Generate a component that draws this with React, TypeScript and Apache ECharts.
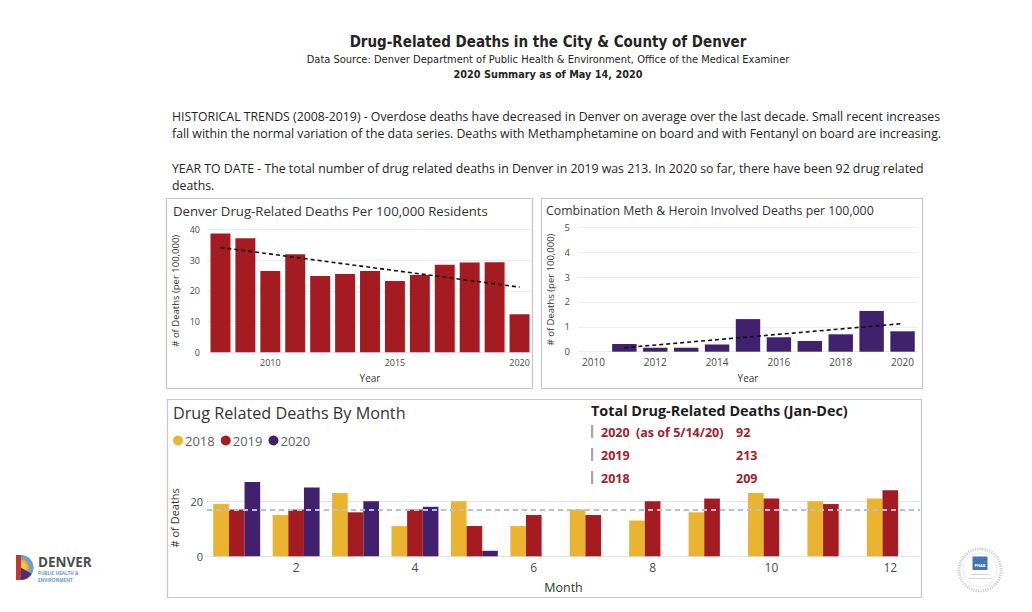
import React, { useEffect, useRef } from "react";
import * as echarts from "echarts";

// ---- data ----
const rateYears = ["2008", "2009", "2010", "2011", "2012", "2013", "2014", "2015", "2016", "2017", "2018", "2019", "2020"];
const rateValues = [38.6, 37.1, 26.4, 31.9, 24.8, 25.5, 26.4, 23.2, 25.1, 28.5, 29.2, 29.3, 12.4];
const rateTrend = [34.1, null, null, null, null, null, null, null, null, null, null, null, 21.2];

const comboYears = ["2010", "2011", "2012", "2013", "2014", "2015", "2016", "2017", "2018", "2019", "2020"];
const comboValues = [null, 0.31, 0.16, 0.16, 0.29, 1.31, 0.58, 0.43, 0.7, 1.64, 0.82];
const comboTrend = [null, 0.16, null, null, null, null, null, null, null, null, 1.13];

const months = ["1", "2", "3", "4", "5", "6", "7", "8", "9", "10", "11", "12"];
const deaths2018 = [19, 15, 23, 11, 20, 11, 17, 13, 16, 23, 20, 21];
const deaths2019 = [17, 17, 16, 17, 11, 15, 15, 20, 21, 21, 19, 24];
const deaths2020 = [27, 25, 20, 18, 2, null, null, null, null, null, null, null];
const monthlyAverage = 17.1;

const totalsLabels = ["2020  (as of 5/14/20)", "2019", "2018"];
const totalsValues = ["92", "213", "209"];

const paragraphLines = [
  "HISTORICAL TRENDS (2008-2019) - Overdose deaths have decreased in Denver on average over the last decade. Small recent increases",
  "fall within the normal variation of the data series. Deaths with Methamphetamine on board and with Fentanyl on board are increasing.",
  "YEAR TO DATE - The total number of drug related deaths in Denver in 2019 was 213. In 2020 so far, there have been 92 drug related",
  "deaths.",
];

const RED = "#A51B22";
const PURPLE = "#41206E";
const YELLOW = "#EBB430";
const FONT = "'Open Sans', 'Noto Sans', sans-serif";
const NARROW = "'Liberation Sans Narrow', 'DejaVu Sans Condensed', sans-serif";
const AXIS_COLOR = "#4a4a4a";
const GRID_COLOR = "#ececec";

export default function App() {
  const ref = useRef<HTMLDivElement>(null);

  useEffect(() => {
    if (!ref.current) return;
    const chart = echarts.init(ref.current, undefined, { renderer: "svg" });

    const txt = (x: number, y: number, text: string, o: any = {}) => ({
      type: "text",
      x,
      y,
      silent: true,
      style: {
        text,
        fill: o.fill || "#252423",
        font: o.font || `12px ${FONT}`,
        align: o.align || "left",
        verticalAlign: "middle",
      },
    });

    const frame = (x: number, y: number, w: number, h: number) => ({
      type: "rect",
      shape: { x, y, width: w, height: h },
      style: { fill: "none", stroke: "#c6c6c6", lineWidth: 1.2 },
      silent: true,
    });

    const graphics: any[] = [
      txt(548, 42, "Drug-Related Deaths in the City & County of Denver", { font: `bold 15px ${NARROW}`, align: "center" }),
      txt(548, 59, "Data Source: Denver Department of Public Health & Environment, Office of the Medical Examiner", { font: `11px ${NARROW}`, align: "center" }),
      txt(548, 74, "2020 Summary as of May 14, 2020", { font: `bold 10.8px ${NARROW}`, align: "center" }),
      txt(172, 116, paragraphLines[0], { font: `12.3px ${FONT}` }),
      txt(172, 133, paragraphLines[1], { font: `12.3px ${FONT}` }),
      txt(172, 168, paragraphLines[2], { font: `12.3px ${FONT}` }),
      txt(172, 185, paragraphLines[3], { font: `12.3px ${FONT}` }),
      frame(166.5, 198.5, 366, 190),
      frame(541.5, 198.5, 381, 190),
      frame(167.5, 399.5, 754, 198),
      txt(173, 211, "Denver Drug-Related Deaths Per 100,000 Residents", { font: `13.2px ${FONT}`, fill: "#333" }),
      txt(546, 210, "Combination Meth & Heroin Involved Deaths per 100,000", { font: `12.3px ${FONT}`, fill: "#333" }),
      txt(173, 413, "Drug Related Deaths By Month", { font: `16.2px ${FONT}`, fill: "#333" }),
      txt(591, 410, "Total Drug-Related Deaths (Jan-Dec)", { font: `bold 14.4px ${FONT}`, fill: "#1c1c1c" }),
    ];
    const rowY = [432, 455, 478];
    rowY.forEach((y, i) => {
      graphics.push({
        type: "rect",
        shape: { x: 591, y: y - 7, width: 2.2, height: 13 },
        style: { fill: "#a6a6a6" },
        silent: true,
      });
      graphics.push(txt(601, y, totalsLabels[i], { font: `bold 12.5px ${FONT}`, fill: "#A3212B" }));
      graphics.push(txt(736, y, totalsValues[i], { font: `bold 12.5px ${FONT}`, fill: "#A3212B" }));
    });

    // Denver logo
    graphics.push(
      { type: "rect", shape: { x: 16, y: 555, width: 5, height: 25 }, style: { fill: "#c0392b" }, silent: true },
      { type: "sector", shape: { cx: 21, cy: 567.5, r0: 0, r: 12.5, startAngle: -Math.PI / 2, endAngle: Math.PI / 2 }, style: { fill: "#f0a830" }, silent: true },
      { type: "sector", shape: { cx: 21, cy: 567.5, r0: 0, r: 12.5, startAngle: Math.PI / 6, endAngle: Math.PI / 2 }, style: { fill: "#4a2f7a" }, silent: true },
      { type: "sector", shape: { cx: 21, cy: 567.5, r0: 8, r: 12.5, startAngle: -Math.PI / 2, endAngle: Math.PI / 6 }, style: { fill: "#6aa0d8" }, silent: true },
      { type: "sector", shape: { cx: 21, cy: 567.5, r0: 0, r: 6, startAngle: -Math.PI / 2, endAngle: Math.PI / 6 }, style: { fill: "#f4c542" }, silent: true },
      txt(38, 562, "DENVER", { font: `bold 13.5px ${FONT}`, fill: "#4d4d4f" }),
      txt(38, 573, "PUBLIC HEALTH &", { font: `bold 4.6px ${FONT}`, fill: "#6f96cc" }),
      txt(38, 579.5, "ENVIRONMENT", { font: `bold 4.6px ${FONT}`, fill: "#6f96cc" })
    );
    // PHAB seal
    graphics.push(
      { type: "circle", shape: { cx: 980, cy: 570, r: 21 }, style: { fill: "#fff", stroke: "#cfcfcf", lineWidth: 3, lineDash: [1.2, 1.2] }, silent: true },
      { type: "circle", shape: { cx: 980, cy: 570, r: 17 }, style: { fill: "none", stroke: "#e0e0e0", lineWidth: 0.8 }, silent: true },
      { type: "rect", shape: { x: 972.5, y: 556.5, width: 15, height: 13.5 }, style: { fill: "#4375b3" }, silent: true },
      txt(980, 565.5, "PHAB", { font: `bold 4px ${FONT}`, fill: "#fff", align: "center" }),
      txt(980, 573.5, "Advancing public", { font: `2.4px ${FONT}`, fill: "#888", align: "center" }),
      txt(980, 578, "health performance", { font: `2.4px ${FONT}`, fill: "#888", align: "center" })
    );

    const axisLabel = (size: number, margin: number, extra: any = {}) => ({
      color: AXIS_COLOR,
      fontSize: size,
      fontFamily: FONT,
      margin,
      ...extra,
    });

    const option: any = {
      animation: false,
      backgroundColor: "#ffffff",
      textStyle: { fontFamily: FONT },
      grid: [
        { left: 208, right: 500, top: 229.3, bottom: 259.7 },
        { left: 578, right: 114, top: 227.3, bottom: 260.3 },
        { left: 207, right: 112, top: 479.3, bottom: 55.7 },
      ],
      legend: {
        data: ["2018", "2019", "2020"],
        icon: "circle",
        left: 168,
        top: 429,
        itemWidth: 10,
        itemHeight: 10,
        itemGap: 6,
        textStyle: { color: "#605E5C", fontSize: 13, fontFamily: FONT, padding: [0, 0, 0, -3] },
      },
      xAxis: [
        {
          type: "category",
          gridIndex: 0,
          data: rateYears,
          axisLine: { show: false },
          axisTick: { show: false },
          axisLabel: axisLabel(9, 6, { interval: (_i: number, v: string) => v === "2010" || v === "2015" || v === "2020" }),
          name: "Year",
          nameLocation: "middle",
          nameGap: 21,
          nameTextStyle: { color: "#333", fontSize: 10, fontFamily: FONT },
        },
        {
          type: "category",
          gridIndex: 1,
          data: comboYears,
          axisLine: { show: false },
          axisTick: { show: false },
          axisLabel: axisLabel(10, 5, { interval: (_i: number, v: string) => Number(v) % 2 === 0 }),
          name: "Year",
          nameLocation: "middle",
          nameGap: 21,
          nameTextStyle: { color: "#333", fontSize: 10, fontFamily: FONT },
        },
        {
          type: "category",
          gridIndex: 2,
          data: months,
          axisLine: { show: false },
          axisTick: { show: false },
          axisLabel: axisLabel(12, 5, { interval: (_i: number, v: string) => Number(v) % 2 === 0 }),
          name: "Month",
          nameLocation: "middle",
          nameGap: 25,
          nameTextStyle: { color: "#333", fontSize: 12.5, fontFamily: FONT },
        },
      ],
      yAxis: [
        {
          type: "value",
          gridIndex: 0,
          min: 0,
          max: 40,
          interval: 10,
          axisLabel: axisLabel(9, 8),
          splitLine: { lineStyle: { color: GRID_COLOR, width: 1 } },
          name: "# of Deaths (per 100,000)",
          nameLocation: "middle",
          nameGap: 28,
          nameTextStyle: { color: "#333", fontSize: 9.5, fontFamily: FONT },
        },
        {
          type: "value",
          gridIndex: 1,
          min: 0,
          max: 5,
          interval: 1,
          axisLabel: axisLabel(9.5, 8),
          splitLine: { lineStyle: { color: GRID_COLOR, width: 1 } },
          name: "# of Deaths (per 100,000)",
          nameLocation: "middle",
          nameGap: 23,
          nameTextStyle: { color: "#333", fontSize: 9.5, fontFamily: FONT },
        },
        {
          type: "value",
          gridIndex: 2,
          min: 0,
          max: 28,
          interval: 20,
          axisLabel: axisLabel(11, 4, { showMaxLabel: false }),
          splitLine: { showMaxLine: false, lineStyle: { color: "#e4e4e4", width: 1 } },
          name: "# of Deaths",
          nameLocation: "middle",
          nameGap: 25,
          nameTextStyle: { color: "#333", fontSize: 11, fontFamily: FONT },
        },
      ],
      series: [
        {
          type: "bar",
          xAxisIndex: 0,
          yAxisIndex: 0,
          data: rateValues,
          barCategoryGap: "20%",
          itemStyle: { color: RED },
        },
        {
          type: "line",
          xAxisIndex: 0,
          yAxisIndex: 0,
          data: rateTrend,
          connectNulls: true,
          symbol: "none",
          lineStyle: { color: "#111", width: 1.6, type: [4, 3] },
          z: 5,
        },
        {
          type: "bar",
          xAxisIndex: 1,
          yAxisIndex: 1,
          data: comboValues,
          barCategoryGap: "21%",
          itemStyle: { color: PURPLE },
        },
        {
          type: "line",
          xAxisIndex: 1,
          yAxisIndex: 1,
          data: comboTrend,
          connectNulls: true,
          symbol: "none",
          lineStyle: { color: "#111", width: 1.6, type: [4, 3] },
          z: 5,
        },
        {
          name: "2018",
          type: "bar",
          xAxisIndex: 2,
          yAxisIndex: 2,
          data: deaths2018,
          barGap: "0%",
          barCategoryGap: "21%",
          itemStyle: { color: YELLOW },
          markLine: {
            silent: true,
            symbol: "none",
            label: { show: false },
            lineStyle: { color: "#a9c3de", width: 2, type: [5, 4] },
            data: [{ yAxis: monthlyAverage }],
            z: 6,
          },
        },
        {
          name: "2019",
          type: "bar",
          xAxisIndex: 2,
          yAxisIndex: 2,
          data: deaths2019,
          barGap: "0%",
          barCategoryGap: "21%",
          itemStyle: { color: RED },
        },
        {
          name: "2020",
          type: "bar",
          xAxisIndex: 2,
          yAxisIndex: 2,
          data: deaths2020,
          barGap: "0%",
          barCategoryGap: "21%",
          itemStyle: { color: PURPLE },
        },
      ],
      graphic: graphics,
    };

    chart.setOption(option);
    return () => chart.dispose();
  }, []);

  return (
    <div
      ref={ref}
      style={{ position: "fixed", left: 0, top: 0, width: 1032, height: 612, background: "#fff" }}
    />
  );
}
